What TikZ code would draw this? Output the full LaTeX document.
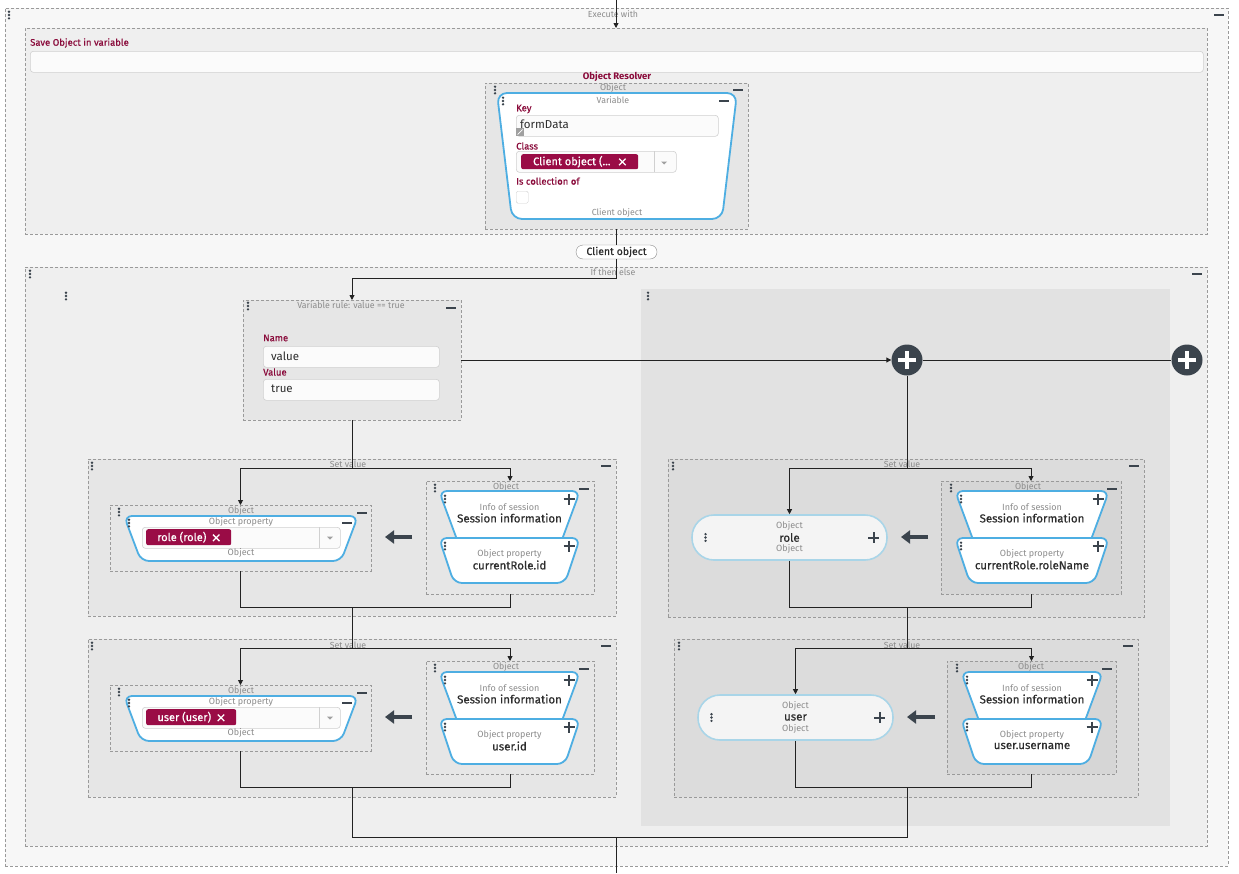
\documentclass[tikz,border=0pt]{standalone}
\usepackage{fontspec}
\setmainfont{Fira Sans}
\newfontfamily\medfont[FakeBold=0.5]{Fira Sans}
\usetikzlibrary{arrows.meta}
\definecolor{outerbg}{HTML}{F7F7F7}
\definecolor{midbg}{HTML}{EFEFEF}
\definecolor{boxbg}{HTML}{E6E6E6}
\definecolor{rightbg}{HTML}{E2E2E2}
\definecolor{rboxbg}{HTML}{DCDCDC}
\definecolor{rinner}{HTML}{D6D6D6}
\definecolor{dashc}{HTML}{9A9A9A}
\definecolor{ttlc}{HTML}{8C8C8C}
\definecolor{lblc}{HTML}{8A0B3B}
\definecolor{tagc}{HTML}{9A0C46}
\definecolor{txtc}{HTML}{2D2D2D}
\definecolor{linec}{HTML}{222222}
\definecolor{iconc}{HTML}{3B444D}
\definecolor{blueb}{HTML}{4EAEE2}
\definecolor{pillb}{HTML}{A9D5E8}
\definecolor{pillf}{HTML}{F4F4F4}
\definecolor{inpb}{HTML}{D0D0D0}
\definecolor{inpf}{HTML}{FBFBFB}
\definecolor{ddc}{HTML}{A0A0A0}
\definecolor{pillg}{HTML}{8A8A8A}

\newcommand\xmark{\tikz[baseline={(0pt,0pt)}]\draw[white,line width=1.3pt] (0pt,0pt) -- (6.5pt,6.5pt) (0pt,6.5pt) -- (6.5pt,0pt);}
\newcommand\mkbox[6]{\node[#1,minimum width={(#4)-(#2)},minimum height={(#5)-(#3)}] (#6) at (#2,#3) {};}
\newcommand\ddarrow[2]{\fill[ddc] ({#1-3},{#2-1.5}) -- ({#1+3},{#2-1.5}) -- ({#1},{#2+1.5}) -- cycle;}
\newcommand\sess[5]{%
 \draw[trap] (#1,#3) -- (#2,#3) -- ({#2-20},{#3+54}) -- ({#1+20},{#3+54}) -- cycle;
 \draw[trap] (#1,{#3+47}) -- (#2,{#3+47}) -- ({#2-15},{#3+92}) -- ({#1+15},{#3+92}) -- cycle;
 \node[sml] (#5i) at ({(#1+#2)/2},{#3+16}) {Info of session};
 \node[big] (#5s) at ({(#1+#2)/2},{#3+27}) {Session information};
 \node[sml] (#5o) at ({(#1+#2)/2},{#3+63}) {Object property};
 \node[big] (#5p) at ({(#1+#2)/2},{#3+74}) {#4};
 \pic at ({#1+6},{#3+8}) {icdots};
 \pic at ({#1+6},{#3+55}) {icdots};
 \pic at ({#2-11},{#3+8}) {icplus};
 \pic at ({#2-11},{#3+55}) {icplus};
}
\newcommand\objsel[4]{%
 \draw[trap] (124,#1) -- (358,#1) -- (341,{#1+45}) -- (141,{#1+45}) -- cycle;
 \node[sml] (#4a) at (241,{#1+6}) {Object property};
 \pic at (129,{#1+7}) {icdots};
 \pic at (347,{#1+7}) {icminus};
 \node[inp,minimum width=198pt,minimum height=21pt] (#4b) at (142,{#1+11}) {};
 \node[tagn,minimum width=#3pt,minimum height=16pt] (#4c) at (146,{#1+13}) {#2};
 \draw[draw=inpb,line width=0.6pt] (319,{#1+11}) -- (319,{#1+32});
 \ddarrow{330}{#1+22}
 \node[sml] (#4d) at (241,{#1+37}) {Object};
}
\newcommand\pillo[4]{%
 \node[pillst] (#4) at (#1,#2) {};
 \node[sml] (#4a) at (#1,{#2-11.5}) {Object};
 \node[big] (#4b) at (#1,#2) {#3};
 \node[sml] (#4c) at (#1,{#2+11.5}) {Object};
 \pic at ({#1-84},#2) {icdots};
 \pic at ({#1+84},#2) {icplus};
}

\begin{document}
\begin{tikzpicture}[x=1pt,y=-1pt,
  dbox/.style={draw=dashc,dash pattern=on 3pt off 2pt,line width=0.6pt,inner sep=0pt,outer sep=0pt,anchor=north west},
  ttl/.style={text=ttlc,font=\fontsize{8.8}{9}\selectfont,inner sep=0pt},
  sml/.style={text=ttlc,font=\fontsize{9}{10}\selectfont,inner sep=0pt},
  lblt/.style={text=lblc,font=\medfont\fontsize{9.5}{10}\selectfont,inner sep=0pt,anchor=west},
  val/.style={text=txtc,font=\fontsize{11.5}{12}\selectfont,inner sep=0pt,anchor=west},
  big/.style={text=txtc,font=\medfont\fontsize{11.5}{12}\selectfont,inner sep=0pt},
  inp/.style={draw=inpb,fill=inpf,rounded corners=3pt,line width=0.6pt,inner sep=0pt,anchor=north west},
  tagn/.style={fill=tagc,text=white,rounded corners=2pt,inner sep=0pt,anchor=north west,font=\medfont\fontsize{11}{12}\selectfont},
  trap/.style={draw=blueb,line width=1.8pt,fill=white,rounded corners=8pt},
  pillst/.style={draw=pillb,fill=pillf,line width=1.6pt,rounded corners=22pt,minimum width=195pt,minimum height=45pt,inner sep=0pt},
  conn/.style={draw=linec,line width=0.9pt},
  arr/.style={conn,-{Triangle[length=5pt,width=5pt]}},
  bigarr/.style={draw=iconc,line width=4.5pt,-{Triangle[length=9pt,width=13pt]}},
  plusc/.style={circle,fill=iconc,minimum size=31pt,inner sep=0pt},
  icdots/.pic={\fill[iconc] (0,-3.3) circle (1.3pt) (0,0) circle (1.3pt) (0,3.3) circle (1.3pt);},
  icminus/.pic={\draw[iconc,line width=2pt] (-5,0) -- (5,0);},
  icplus/.pic={\draw[iconc,line width=2pt] (-5.5,0) -- (5.5,0) (0,-5.5) -- (0,5.5);},
]
\useasboundingbox (0,0) rectangle (1239,873);
\fill[white] (0,0) rectangle (1239,873);

% ---- Execute with
\mkbox{dbox,fill=outerbg}{5}{8}{1228}{866}{exec}
\node[ttl] (texec) at (613,14) {Execute with};
\pic at (9,15) {icdots};
\pic at (1219,15) {icminus};
\coordinate (topin) at (616,0);

% ---- Save object in variable
\mkbox{dbox,fill=midbg}{25}{28}{1207}{234}{save}
\node[lblt] (tsave) at (30,43) {Save Object in variable};
\node[inp,minimum width=1173pt,minimum height=21pt] (isave) at (30,51) {};
\node[text=lblc,font=\fontsize{9.5}{10}\selectfont\bfseries,inner sep=0pt] (tres) at (617,77) {Object Resolver};
\mkbox{dbox,fill=boxbg}{485}{83}{748}{229}{resobj}
\node[ttl] (tresobj) at (613,88) {Object};
\pic at (495,90) {icdots};
\pic at (738,90) {icminus};
\draw[trap,rounded corners=10pt] (497,93) -- (737,93) -- (722,219) -- (512,219) -- cycle;
\node[ttl] (tvar) at (613,100) {Variable};
\pic at (503,101) {icdots};
\pic at (724,101) {icminus};
\node[lblt] (tkey) at (516,109) {Key};
\node[inp,minimum width=202pt,minimum height=21pt] (ikey) at (516,115) {};
\node[val] (vkey) at (520,124) {formData};
\fill[ddc] (516,128) rectangle (524,136);
\draw[white,line width=0.7pt] (517.5,134.5) -- (522.5,129.5);
\node[lblt] (tclass) at (516,146) {Class};
\node[inp,minimum width=160pt,minimum height=21pt] (iclass) at (516,151) {};
\node[tagn,minimum width=117pt,minimum height=15pt] (tagclass) at (521,154) {Client object (...\hspace{8pt}\xmark};
\draw[draw=inpb,line width=0.6pt] (654,151) -- (654,172);
\ddarrow{664}{163}
\node[lblt] (tcoll) at (516,181) {Is collection of};
\node[draw=inpb,fill=white,rounded corners=1.5pt,minimum size=12pt,inner sep=0pt,anchor=north west] (chk) at (516,191) {};
\node[ttl] (tclobj) at (617,213) {Client object};

\node[draw=pillg,fill=white,rounded corners=7pt,minimum width=81pt,minimum height=14pt,inner sep=0pt,text=txtc,font=\medfont\fontsize{10.5}{11}\selectfont] (cobj) at (616.5,252) {Client object};

% ---- If then else
\mkbox{dbox,fill=midbg}{25}{267}{1207}{846}{ite}
\node[ttl] (tite) at (613,272) {If then else};
\pic at (30,274) {icdots};
\pic at (1197,274) {icminus};
\pic at (66,296) {icdots};
\node[fill=rightbg,inner sep=0pt,anchor=north west,minimum width=529pt,minimum height=537pt] (elsereg) at (641,289) {};
\pic at (648,296) {icdots};

% rule
\mkbox{dbox,fill=boxbg}{243}{300}{461}{420}{rule}
\node[ttl] (trule) at (351,305) {Variable rule: value == true};
\pic at (248,306) {icdots};
\pic at (451,308) {icminus};
\node[lblt] (tname) at (263,338) {Name};
\node[inp,minimum width=176pt,minimum height=21pt] (iname) at (263,346) {};
\node[val] (vname) at (271,356) {value};
\node[lblt] (tvalue) at (263,372) {Value};
\node[inp,minimum width=176pt,minimum height=21pt] (ivalue) at (263,379) {};
\node[val] (vvalue) at (271,389) {true};

% plus circles
\node[plusc] (p1) at (907,360) {};
\node[plusc] (p2) at (1187,360) {};
\draw[white,line width=3.6pt] (898,360) -- (916,360) (907,351) -- (907,369)
  (1178,360) -- (1196,360) (1187,351) -- (1187,369);

% ---- Left set value 1
\mkbox{dbox,fill=boxbg}{88}{459}{616}{616}{svLa}
\node[ttl] (tsvLa) at (348,464) {Set value};
\pic at (92,466) {icdots};
\pic at (606,466) {icminus};
\mkbox{dbox,fill=boxbg}{110}{505}{371}{571}{oLa}
\node[ttl] (toLa) at (241,511) {Object};
\pic at (119,512) {icdots};
\pic at (362,513) {icminus};
\objsel{516}{role (role)\hspace{6pt}\xmark}{85}{La}
\draw[bigarr] (412,537) -- (385,537);
\mkbox{dbox,fill=boxbg}{426}{481}{594}{594}{sLa}
\node[ttl] (tsLa) at (506,487) {Object};
\pic at (435,488) {icdots};
\pic at (584,489) {icminus};
\sess{439}{580}{491}{currentRole.id}{La}

% ---- Left set value 2
\mkbox{dbox,fill=boxbg}{88}{639}{616}{797}{svLb}
\node[ttl] (tsvLb) at (348,645) {Set value};
\pic at (92,646) {icdots};
\pic at (606,646) {icminus};
\mkbox{dbox,fill=boxbg}{110}{685}{371}{751}{oLb}
\node[ttl] (toLb) at (241,691) {Object};
\pic at (119,692) {icdots};
\pic at (362,693) {icminus};
\objsel{696}{user (user)\hspace{6pt}\xmark}{90}{Lb}
\draw[bigarr] (412,717) -- (385,717);
\mkbox{dbox,fill=boxbg}{426}{661}{594}{774}{sLb}
\node[ttl] (tsLb) at (506,667) {Object};
\pic at (435,668) {icdots};
\pic at (584,669) {icminus};
\sess{439}{580}{672}{user.id}{Lb}

% ---- Right set value 1
\mkbox{dbox,fill=rboxbg}{668}{459}{1144}{617}{svRa}
\node[ttl] (tsvRa) at (902,464) {Set value};
\pic at (673,466) {icdots};
\pic at (1134,466) {icminus};
\pillo{789.5}{537.5}{role}{oRa}
\draw[bigarr] (928,537) -- (901,537);
\mkbox{dbox,fill=rinner}{941}{481}{1121}{594}{sRa}
\node[ttl] (tsRa) at (1028,487) {Object};
\pic at (951,488) {icdots};
\pic at (1112,489) {icminus};
\sess{955}{1109}{491}{currentRole.roleName}{Ra}

% ---- Right set value 2
\mkbox{dbox,fill=rboxbg}{674}{639}{1138}{797}{svRb}
\node[ttl] (tsvRb) at (902,645) {Set value};
\pic at (679,646) {icdots};
\pic at (1128,646) {icminus};
\pillo{795.5}{717.5}{user}{oRb}
\draw[bigarr] (935,717) -- (907,717);
\mkbox{dbox,fill=rinner}{947}{661}{1116}{774}{sRb}
\node[ttl] (tsRb) at (1031,667) {Object};
\pic at (957,668) {icdots};
\pic at (1107,669) {icminus};
\sess{961}{1103}{672}{user.username}{Rb}

% ---- connectors
\draw[arr] (topin) -- (save.north);
\draw[conn] (resobj.south) -- (cobj.north);
\coordinate (j0) at (616.5,278);
\draw[arr] (cobj.south) -- (j0) -| (rule.north);
\draw[arr] (rule.east) -- (p1.west);
\draw[conn] (p1.east) -- (p2.west);

\coordinate (jLa) at (352,468);
\draw[conn] (rule.south) -- (jLa);
\draw[arr] (jLa) -| (oLa.north);
\draw[arr] (jLa) -| (sLa.north);
\coordinate (bLa) at (352,607);
\draw[conn] (oLa.south) |- (bLa) -| (sLa.south);
\coordinate (jLb) at (352,648);
\draw[conn] (bLa) -- (jLb);
\draw[arr] (jLb) -| (oLb.north);
\draw[arr] (jLb) -| (sLb.north);
\coordinate (bLb) at (352,787);
\draw[conn] (oLb.south) |- (bLb) -| (sLb.south);

\coordinate (jRa) at (907,468);
\draw[conn] (p1.south) -- (jRa);
\draw[arr] (jRa) -| (oRa.north);
\draw[arr] (jRa) -| (sRa.north);
\coordinate (bRa) at (907,607);
\draw[conn] (oRa.south) |- (bRa) -| (sRa.south);
\coordinate (jRb) at (907,648);
\draw[conn] (bRa) -- (jRb);
\draw[arr] (jRb) -| (oRb.north);
\draw[arr] (jRb) -| (sRb.north);
\coordinate (bRb) at (907,787);
\draw[conn] (oRb.south) |- (bRb) -| (sRb.south);

\coordinate (m1) at (352,837);
\coordinate (m2) at (907,837);
\coordinate (mm) at (616,837);
\coordinate (botout) at (616,873);
\draw[conn] (bLb) -- (m1) -- (m2) -- (bRb);
\draw[conn] (mm) -- (botout);
\end{tikzpicture}
\end{document}
